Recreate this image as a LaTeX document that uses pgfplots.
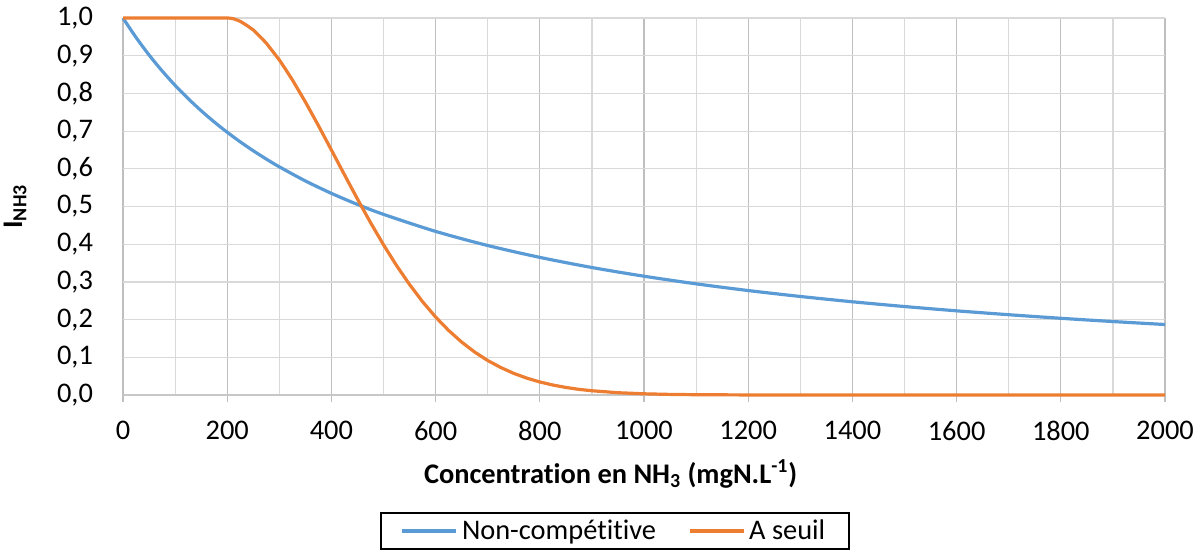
\documentclass[border=0pt]{standalone}
\usepackage{fontspec}
\setmainfont[Ligatures={NoCommon,NoRare,NoDiscretionary}]{Carlito}
\usepackage{pgfplots}
\pgfplotsset{compat=1.18}
\definecolor{exblue}{HTML}{5B9BD5}
\definecolor{exorange}{HTML}{ED7D31}
\definecolor{gmaj}{HTML}{BFBFBF}
\definecolor{gmin}{HTML}{D9D9D9}
\newcommand{\cfont}{\fontsize{14.2}{17}\selectfont}
\begin{document}
\begin{tikzpicture}
\path[use as bounding box] (-61.5pt,-79.5pt) rectangle (539.5pt,197.5pt);
\begin{axis}[
  scale only axis,
  width=521pt, height=188.5pt,
  xmin=0, xmax=2000, ymin=0, ymax=1,
  clip=false,
  xtick={0,200,...,2000},
  minor x tick num=1,
  ytick={0,0.1,...,1.0},
  xmajorgrids, xminorgrids, ymajorgrids,
  major x grid style={gmaj, line width=0.6pt},
  minor x grid style={gmin, line width=0.6pt},
  major y grid style={gmin, line width=0.6pt},
  axis lines*=left,
  separate axis lines,
  x axis line style={gmin!80!gray, line width=0.6pt, -},
  y axis line style={draw=none},
  tick align=outside,
  xtick pos=bottom,
  ytick pos=left,
  major x tick style={gmaj, line width=0.6pt},
  major y tick style={draw=none},
  major tick length=3.5pt,
  minor tick length=0pt,
  /pgf/number format/assume math mode=true,
  x tick label style={font=\cfont, /pgf/number format/1000 sep={}, yshift=-6pt},
  y tick label style={font=\cfont, xshift=-8pt},
  yticklabels={0{,}0,0{,}1,0{,}2,0{,}3,0{,}4,0{,}5,0{,}6,0{,}7,0{,}8,0{,}9,1{,}0},
  xlabel={\textbf{Concentration en NH\textsubscript{3} (mgN.L\textsuperscript{-1})}},
  xlabel style={font=\cfont, at={(axis description cs:0.468,-0.2095)}, anchor=center},
  ylabel={\textbf{I\textsubscript{NH3}}},
  ylabel style={font=\cfont, at={(axis description cs:-0.1036,0.5)}, anchor=center},
  legend columns=2,
  legend style={font=\cfont, at={(axis description cs:0.4722,-0.3607)}, anchor=center,
    draw=black, line width=0.9pt, inner xsep=10pt, inner ysep=1.5pt,
    /tikz/every even column/.append style={column sep=14pt}},
  legend image code/.code={\draw[#1, line width=1.6pt] (0pt,0pt) -- (27pt,0pt);},
]
\addplot[exblue, line width=1.6pt, smooth] coordinates {
(0,1) (25,0.9485) (50,0.9020) (75,0.8598) (100,0.8214) (125,0.7863) (150,0.7541)
(175,0.7244) (200,0.6970) (225,0.6715) (250,0.6479) (275,0.6259) (300,0.6053)
(350,0.5679) (400,0.5349) (450,0.5055) (500,0.4792) (600,0.4340) (700,0.3966)
(800,0.3651) (900,0.3382) (1000,0.3151) (1100,0.2949) (1200,0.2771) (1300,0.2614)
(1400,0.2473) (1500,0.2347) (1600,0.2233) (1700,0.2130) (1800,0.2035) (1900,0.1949)
(2000,0.1870)
};
\addlegendentry{Non-compétitive}
\addplot[exorange, line width=1.6pt, line join=round] coordinates {
(0,1) (100,1) (200,1) (206,0.9995) (212,0.998) (218,0.995) (225,0.9912) (237,0.981) (250,0.9683) (262,0.952) (275,0.9335) (287,0.912) (300,0.8888)
(312,0.864) (325,0.8361) (337,0.808) (350,0.7775) (375,0.7148) (400,0.6499) (425,0.5844) (450,0.5199)
(475,0.4576) (500,0.3985) (525,0.3435) (550,0.2931) (575,0.2475) (600,0.2069)
(625,0.1713) (650,0.1404) (675,0.1139) (700,0.0915) (725,0.0730) (750,0.0574) (775,0.0448) (800,0.0346)
(825,0.0265) (850,0.0201) (875,0.0150) (900,0.0113) (950,0.0061) (1000,0.0032) (1050,0.0016) (1100,0.0008) (1200,0.0002)
(1300,0) (2000,0)
};
\addlegendentry{A seuil}
\end{axis}
\end{tikzpicture}
\end{document}
